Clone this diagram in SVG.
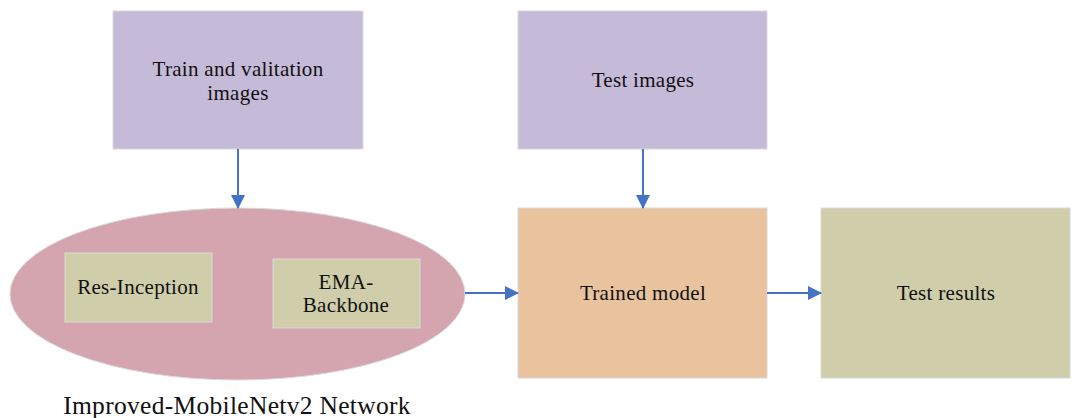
<svg xmlns="http://www.w3.org/2000/svg" width="1077" height="418" viewBox="0 0 1077 418">
<style>
.t{font-family:"Liberation Serif","Times New Roman",serif;font-size:21px;fill:#111;text-anchor:middle;letter-spacing:0.3px}
.box{stroke:#D9D9D9;stroke-width:1}
.purple{fill:#C5BAD8}
.olive{fill:#CFCDAA}
.conn{stroke:#4472C4;stroke-width:2;fill:none;marker-end:url(#ah)}
</style>
<defs>
<marker id="ah" markerWidth="14" markerHeight="14" refX="13" refY="7" orient="auto" markerUnits="userSpaceOnUse">
<path d="M0,0 L14,7 L0,14 Z" fill="#4472C4"/>
</marker>
</defs>
<rect width="1077" height="418" fill="#fff"/>
<g id="train-images">
<rect class="box purple" x="113" y="11" width="250" height="138"/>
<text class="t" x="238" y="76">Train and valitation</text>
<text class="t" x="238" y="100">images</text>
</g>
<g id="test-images">
<rect class="box purple" x="518" y="11" width="249" height="138"/>
<text class="t" x="643" y="87">Test images</text>
</g>
<g id="network">
<ellipse cx="237.5" cy="294" rx="227.5" ry="86" fill="#D4A5AE" stroke="#D9D9D9" stroke-width="1"/>
<text class="t" x="237" y="414" style="font-size:25.5px">Improved-MobileNetv2 Network</text>
</g>
<g id="res-inception">
<rect class="box olive" x="65" y="253" width="147" height="69"/>
<text class="t" x="138" y="294">Res-Inception</text>
</g>
<g id="ema-backbone">
<rect class="box olive" x="273" y="259" width="147" height="69"/>
<text class="t" x="346" y="289">EMA-</text>
<text class="t" x="346" y="312">Backbone</text>
</g>
<g id="trained-model">
<rect class="box" x="518" y="208" width="249" height="170" fill="#E8C39E"/>
<text class="t" x="643" y="300">Trained model</text>
</g>
<g id="test-results">
<rect class="box olive" x="821" y="208" width="249" height="170"/>
<text class="t" x="946" y="300">Test results</text>
</g>
<g id="connectors">
<line class="conn" x1="238" y1="149" x2="238" y2="208"/>
<line class="conn" x1="643" y1="149" x2="643" y2="208"/>
<line class="conn" x1="465" y1="293" x2="518" y2="293"/>
<line class="conn" x1="767" y1="293" x2="821" y2="293"/>
</g>
</svg>
